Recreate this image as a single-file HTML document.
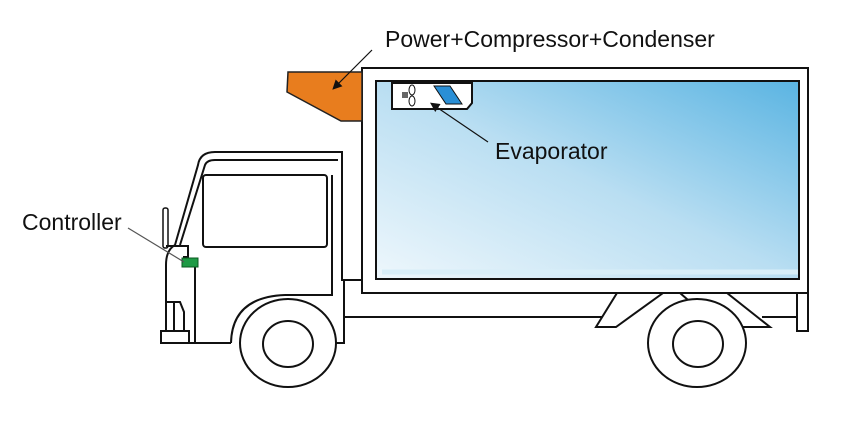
<!DOCTYPE html>
<html><head><style>
body{margin:0;background:#fff;width:847px;height:426px;overflow:hidden}
text{font-family:"Liberation Sans",sans-serif;font-size:23px;fill:#111}
</style></head><body>
<svg width="847" height="426" viewBox="0 0 847 426" fill="none" stroke="#111" stroke-width="2">
<defs><linearGradient id="g" x1="0" y1="1" x2="1" y2="0">
<stop offset="0" stop-color="#eef7fc"/><stop offset="0.5" stop-color="#b9def2"/><stop offset="1" stop-color="#5ab4e2"/></linearGradient>
<marker id="a" markerWidth="8" markerHeight="8" refX="6" refY="4" orient="auto"><path d="M0,0 L8,4 L0,8 z" fill="#111" stroke="none"/></marker></defs>
<!-- box -->
<rect x="362" y="68" width="446" height="225" fill="#fff"/>
<rect x="376" y="81" width="423" height="198" fill="url(#g)"/>
<line x1="382" y1="272" x2="799" y2="272" stroke="#d8eef8" stroke-width="5"/>
<rect x="376" y="81" width="423" height="198"/>
<!-- orange -->
<polygon points="288,72 362,72 362,121 341,121 287,92" fill="#e87d1e" stroke="#222" stroke-width="1.5"/>
<!-- evaporator -->
<path d="M392,83 H472 V103 L467,109 H392 Z" fill="#fff"/>
<rect x="402" y="92" width="6" height="6" fill="#666" stroke="none"/>
<ellipse cx="412" cy="90" rx="3" ry="5" fill="#fff" stroke-width="1"/>
<ellipse cx="412" cy="101" rx="3" ry="5" fill="#fff" stroke-width="1"/>
<polygon points="434,86 450,86 462,104 446,104" fill="#2a8fd6" stroke="#111" stroke-width="1"/>
<!-- chassis -->
<path d="M344,293 V317 H628"/><path d="M344,280 H362"/>
<path d="M762,317 H797"/>
<rect x="797" y="293" width="11" height="38" fill="#fff"/>
<path d="M617,293 L663,293 L616,327 L596,327 Z" fill="#fff"/>
<path d="M727,293 L680,293 L719,327 L770,327 Z" fill="#fff"/>
<path d="M663,293 H680"/>
<!-- cab -->
<path d="M166,343 V265 Q166,250 175,245 L198,165 Q200,152 215,152 H342 V172" fill="#fff"/>
<path d="M342,152 V280 H344 V343 H335" />
<path d="M180,245 L205,165 Q207,160 215,160 H338"/>
<path d="M195,262 V343"/>
<rect x="203" y="175" width="124" height="72" rx="3" fill="#fff"/>
<path d="M332,175 V295 H285"/>
<path d="M166,343 H231"/>
<path d="M231,343 Q232,297 285,295" />
<path d="M241,343 Q244,303 290,302" />
<rect x="161" y="331" width="28" height="12" fill="#fff"/>
<path d="M166,302 H180 L184,312 V331 M174,302 V331"/>
<rect x="163" y="208" width="5" height="40" rx="2" fill="#fff" stroke-width="1.5"/>
<path d="M166,246 H188 V257 H183"/>
<rect x="182" y="258" width="16" height="9" fill="#1e9a45" stroke="#0a5a20" stroke-width="1"/>
<!-- wheels -->
<ellipse cx="288" cy="343" rx="48" ry="44" fill="#fff"/>
<ellipse cx="288" cy="344" rx="25" ry="23"/>
<ellipse cx="697" cy="343" rx="49" ry="44" fill="#fff"/>
<ellipse cx="698" cy="344" rx="25" ry="23"/>
<!-- leaders -->
<line x1="372" y1="50" x2="334" y2="88" stroke-width="1.2" marker-end="url(#a)"/>
<line x1="488" y1="142" x2="432" y2="104" stroke-width="1.2" marker-end="url(#a)"/>
<line x1="128" y1="228" x2="184" y2="262" stroke-width="1.2" stroke="#555"/>
<text x="385" y="47" stroke="none">Power+Compressor+Condenser</text>
<text x="495" y="159" stroke="none">Evaporator</text>
<text x="22" y="230" stroke="none">Controller</text>
</svg>
</body></html>
